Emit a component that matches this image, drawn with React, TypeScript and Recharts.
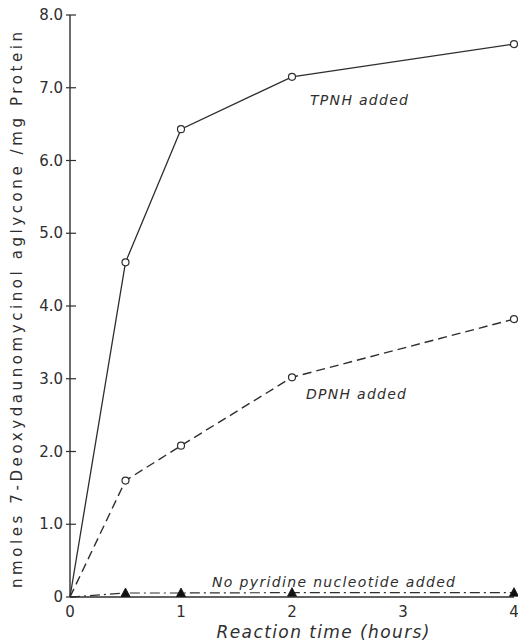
import React from 'react';
import { LineChart, Line, XAxis, YAxis } from 'recharts';

const times = [0, 0.5, 1, 2, 4];
const tpnhValues = [0, 4.6, 6.43, 7.15, 7.6];
const dpnhValues = [0, 1.6, 2.08, 3.02, 3.82];
const noneValues = [0, 0.055, 0.055, 0.06, 0.06];
const xTicks = [0, 1, 2, 3, 4];
const yTicks = [0, 1, 2, 3, 4, 5, 6, 7, 8];

const yLabelText = 'nmoles  7-Deoxydaunomycinol aglycone /mg Protein';
const xLabelText = 'Reaction time (hours)';
const tpnhLabel = 'TPNH added';
const dpnhLabel = 'DPNH added';
const noneLabel = 'No pyridine nucleotide added';

const data = times.map((t, i) => ({
  t,
  tpnh: tpnhValues[i],
  dpnh: dpnhValues[i],
  none: noneValues[i],
}));

const INK = '#2e2e2e';
const FONT = '"DejaVu Sans", sans-serif';

const YTick = (props: any) => {
  const { y, payload } = props;
  const v = payload.value;
  const label = v === 0 ? '0' : v.toFixed(1);
  return (
    <g>
      <line x1={66} x2={76} y1={y} y2={y} stroke={INK} strokeWidth={1.2} />
      <text x={63} y={y} dy={5} textAnchor="end" fontSize={15} fill={INK} fontFamily={FONT}>
        {label}
      </text>
    </g>
  );
};

const XTick = (props: any) => {
  const { x, y, payload } = props;
  return (
    <text x={x} y={y} dy={12} textAnchor="middle" fontSize={15} fill={INK} fontFamily={FONT}>
      {String(payload.value)}
    </text>
  );
};

const OpenCircle = (props: any) => {
  const { cx, cy, index } = props;
  if (index === 0) return <g key={`c-${index}`} />;
  return <circle key={`c-${index}`} cx={cx} cy={cy} r={3.5} fill="#fff" stroke={INK} strokeWidth={1.2} />;
};

const Triangle = (props: any) => {
  const { cx, cy, index } = props;
  if (index === 0) return <g key={`t-${index}`} />;
  return (
    <path
      key={`t-${index}`}
      d={`M${cx - 4.5},${cy + 3.5} L${cx},${cy - 5} L${cx + 4.5},${cy + 3.5} Z`}
      fill="#111"
      stroke="#111"
      strokeWidth={0.8}
    />
  );
};

export default function App() {
  return (
    <div style={{ position: 'relative', width: 518, height: 644, background: '#fff', overflow: 'visible' }}>
      <style>{'html,body{margin:0;padding:0;overflow:hidden;background:#fff}'}</style>
      <LineChart
        width={518}
        height={644}
        data={data}
        margin={{ top: 15, right: 4, bottom: 0, left: 0 }}
        style={{ overflow: 'visible' }}
      >
        <XAxis
          dataKey="t"
          type="number"
          domain={[0, 4]}
          ticks={xTicks}
          tickLine={false}
          tick={<XTick />}
          axisLine={{ stroke: INK, strokeWidth: 1.4 }}
          height={47}
        />
        <YAxis
          type="number"
          domain={[0, 8]}
          ticks={yTicks}
          tickLine={false}
          tick={<YTick />}
          axisLine={{ stroke: INK, strokeWidth: 1.4 }}
          width={70}
        />
        <Line
          dataKey="tpnh"
          type="linear"
          stroke={INK}
          strokeWidth={1.3}
          dot={OpenCircle}
          activeDot={false}
          isAnimationActive={false}
        />
        <Line
          dataKey="dpnh"
          type="linear"
          stroke={INK}
          strokeWidth={1.4}
          strokeDasharray="9 5"
          dot={OpenCircle}
          activeDot={false}
          isAnimationActive={false}
        />
        <Line
          dataKey="none"
          type="linear"
          stroke={INK}
          strokeWidth={1.2}
          strokeDasharray="10 4 2 4"
          dot={Triangle}
          activeDot={false}
          isAnimationActive={false}
        />
      </LineChart>
      <svg
        width={518}
        height={644}
        style={{ position: 'absolute', left: 0, top: 0, pointerEvents: 'none' }}
      >
        <text
          x={0}
          y={0}
          transform="translate(22 310) rotate(-90)"
          textAnchor="middle"
          fontSize={15}
          fill={INK}
          fontFamily={FONT}
          textLength={556}
          lengthAdjust="spacing"
        >
          {yLabelText}
        </text>
        <text x={323} y={638} textAnchor="middle" fontSize={17} fontStyle="italic" fill={INK} fontFamily={FONT} textLength={213} lengthAdjust="spacing">
          {xLabelText}
        </text>
        <text x={310} y={105} fontSize={14} fontStyle="italic" fill={INK} fontFamily={FONT} textLength={98} lengthAdjust="spacing">
          {tpnhLabel}
        </text>
        <text x={306} y={399} fontSize={14} fontStyle="italic" fill={INK} fontFamily={FONT} textLength={100} lengthAdjust="spacing">
          {dpnhLabel}
        </text>
        <text x={212} y={587} fontSize={14} fontStyle="italic" fill={INK} fontFamily={FONT} textLength={243} lengthAdjust="spacing">
          {noneLabel}
        </text>
      </svg>
    </div>
  );
}
